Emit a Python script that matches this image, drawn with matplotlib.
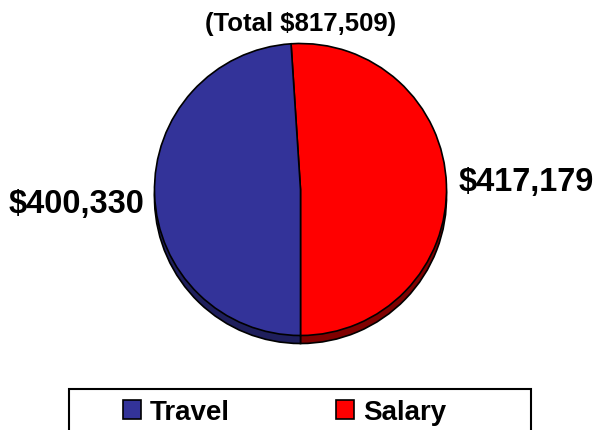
import matplotlib
matplotlib.use('Agg')
import matplotlib.pyplot as plt
from matplotlib.patches import Rectangle

plt.rcParams['font.family'] = 'Liberation Sans'
plt.rcParams['font.weight'] = 'bold'

# data
labels = ['Salary', 'Travel']
values = [417179, 400330]
colors = ['#ff0000', '#333399']
shadow_colors = ['#800000', '#1f1f5c']
total = sum(values)

fig = plt.figure(figsize=(5.98, 4.31), dpi=100)
ax = fig.add_axes([0, 0, 1, 1])

cx, cy, r = 300.5, 240.5, 146
depth = 8

# extruded bottom of the pie
ax.pie(values, colors=shadow_colors, startangle=-90, counterclock=True,
       radius=r, center=(cx, cy - depth),
       wedgeprops=dict(edgecolor='black', linewidth=1.2))
wedges, _ = ax.pie(values, colors=colors, startangle=-90, counterclock=True,
                   radius=r, center=(cx, cy),
                   wedgeprops=dict(edgecolor='black', linewidth=1.2))

ax.set_xlim(0, 598)
ax.set_ylim(0, 431)
ax.set_aspect('auto')
ax.axis('off')

ax.text(cx, 407, f'(Total ${total:,})', ha='center', va='center',
        fontsize=18.5, fontweight='bold')
ax.text(77, 226, f'${values[1]:,}', ha='center', va='center',
        fontsize=23.5, fontweight='bold')
ax.text(526, 249, f'${values[0]:,}', ha='center', va='center',
        fontsize=23.5, fontweight='bold')

# legend box
ax.add_patch(Rectangle((69, -20), 462, 61, fill=False, edgecolor='black',
                       linewidth=1.5, clip_on=False))
ax.legend([wedges[1], wedges[0]], [labels[1], labels[0]], ncol=2,
          loc='center left', bbox_to_anchor=(123 / 598, 18 / 431),
          frameon=False, handlelength=0.65, handleheight=0.65,
          handletextpad=0.3, columnspacing=3.85, borderpad=0,
          borderaxespad=0, prop={'weight': 'bold', 'size': 20})

fig.savefig('out.png', dpi=100)
